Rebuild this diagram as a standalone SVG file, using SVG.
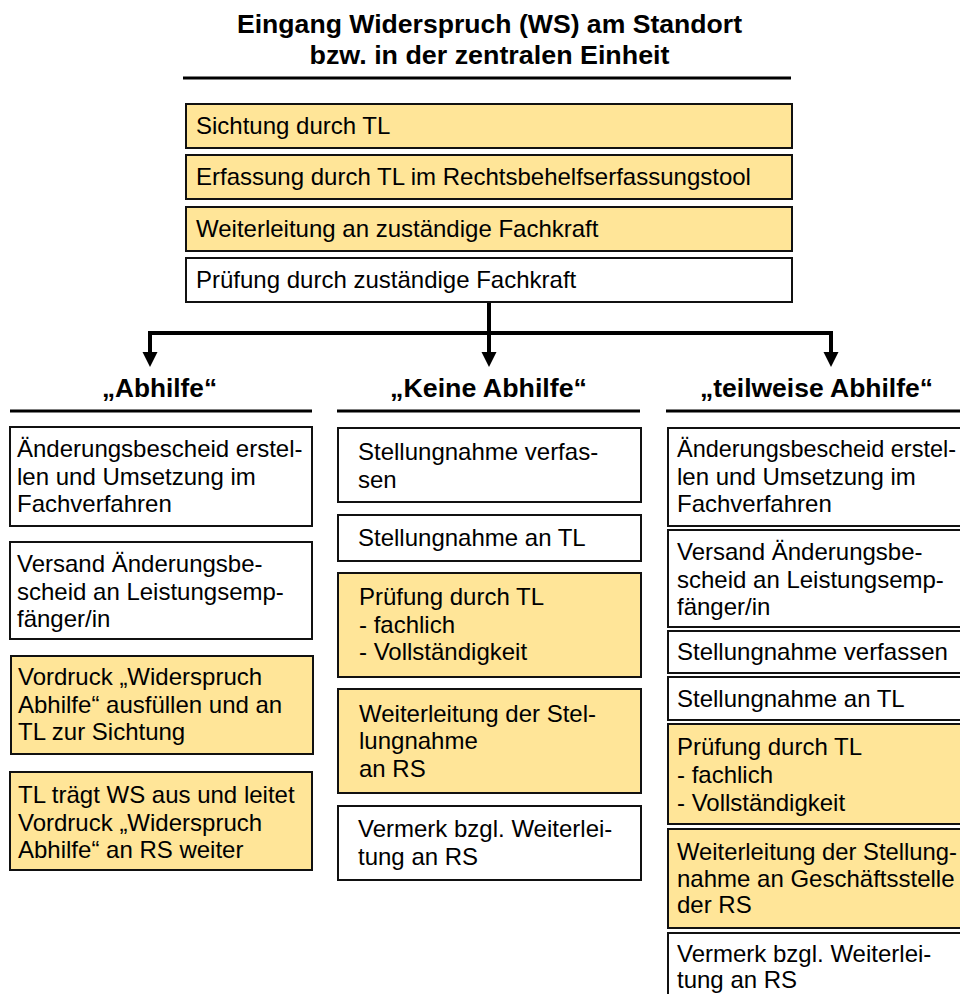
<svg xmlns="http://www.w3.org/2000/svg" width="960" height="994" viewBox="0 0 960 994">
<style>
  text { font-family: "Liberation Sans", Arial, sans-serif; fill: #000; }
  .t { font-size: 24px; }
  .h { font-size: 25px; font-weight: bold; text-anchor: middle; }
  .y { fill: #FFE598; stroke: #111; stroke-width: 2; }
  .w { fill: #FFFFFF; stroke: #111; stroke-width: 2; }
  .rule { stroke: #000; stroke-width: 3; fill: none; }
  .conn { stroke: #000; stroke-width: 4; fill: none; }
</style>
<defs>
  <polygon id="head" points="-7.5,0 7.5,0 0,15" fill="#000"/>
</defs>
<rect width="960" height="994" fill="#fff"/>

<g id="title">
  <text class="h" x="489.5" y="33" textLength="505" lengthAdjust="spacingAndGlyphs">Eingang Widerspruch (WS) am Standort</text>
  <text class="h" x="489.5" y="64" textLength="360" lengthAdjust="spacingAndGlyphs">bzw. in der zentralen Einheit</text>
  <line class="rule" x1="183" y1="78" x2="791" y2="78"/>
</g>

<g id="top1"><rect class="y" x="186" y="104" width="606" height="44"/><text class="t" x="196" y="134">Sichtung durch TL</text></g>
<g id="top2"><rect class="y" x="186" y="155" width="606" height="44"/><text class="t" x="196" y="185">Erfassung durch TL im Rechtsbehelfserfassungstool</text></g>
<g id="top3"><rect class="y" x="186" y="207" width="606" height="44"/><text class="t" x="196" y="237">Weiterleitung an zuständige Fachkraft</text></g>
<g id="top4"><rect class="w" x="186" y="258" width="606" height="44"/><text class="t" x="196" y="288">Prüfung durch zuständige Fachkraft</text></g>

<g id="connectors">
  <polyline class="conn" points="489,303 489,333"/>
  <polyline class="conn" points="150,352 150,333 831,333 831,352"/>
  <line class="conn" x1="489" y1="333" x2="489" y2="352"/>
  <use href="#head" x="150" y="352"/>
  <use href="#head" x="489" y="352"/>
  <use href="#head" x="831" y="352"/>
</g>

<g id="head-abhilfe">
  <text class="h" x="159.5" y="397" textLength="115" lengthAdjust="spacingAndGlyphs">„Abhilfe“</text>
  <line class="rule" x1="10" y1="411" x2="312" y2="411"/>
</g>
<g id="head-keine">
  <text class="h" x="488.5" y="397" textLength="197" lengthAdjust="spacingAndGlyphs">„Keine Abhilfe“</text>
  <line class="rule" x1="337" y1="411" x2="640" y2="411"/>
</g>
<g id="head-teilweise">
  <text class="h" x="816.5" y="397" textLength="233" lengthAdjust="spacingAndGlyphs">„teilweise Abhilfe“</text>
  <line class="rule" x1="666" y1="411" x2="960" y2="411"/>
</g>

<g id="a1"><rect class="w" x="10" y="427" width="302" height="99"/>
  <text class="t" x="17" y="457">Änderungsbescheid erstel-</text>
  <text class="t" x="17" y="485">len und Umsetzung im</text>
  <text class="t" x="17" y="512">Fachverfahren</text></g>
<g id="a2"><rect class="w" x="10" y="542" width="302" height="97"/>
  <text class="t" x="17" y="572">Versand Änderungsbe-</text>
  <text class="t" x="17" y="600">scheid an Leistungsemp-</text>
  <text class="t" x="17" y="627">fänger/in</text></g>
<g id="a3"><rect class="y" x="11" y="656" width="302" height="98"/>
  <text class="t" x="18" y="685">Vordruck „Widerspruch</text>
  <text class="t" x="18" y="713">Abhilfe“ ausfüllen und an</text>
  <text class="t" x="18" y="740">TL zur Sichtung</text></g>
<g id="a4"><rect class="y" x="10" y="772" width="302" height="98"/>
  <text class="t" x="18" y="803">TL trägt WS aus und leitet</text>
  <text class="t" x="18" y="831">Vordruck „Widerspruch</text>
  <text class="t" x="18" y="858">Abhilfe“ an RS weiter</text></g>

<g id="b1"><rect class="w" x="338" y="428" width="303" height="74"/>
  <text class="t" x="358" y="460">Stellungnahme verfas-</text>
  <text class="t" x="358" y="488">sen</text></g>
<g id="b2"><rect class="w" x="338" y="515" width="303" height="46"/>
  <text class="t" x="358" y="546">Stellungnahme an TL</text></g>
<g id="b3"><rect class="y" x="338" y="573" width="303" height="104"/>
  <text class="t" x="359" y="605">Prüfung durch TL</text>
  <text class="t" x="359" y="633">- fachlich</text>
  <text class="t" x="359" y="660">- Vollständigkeit</text></g>
<g id="b4"><rect class="y" x="338" y="689" width="303" height="104"/>
  <text class="t" x="359" y="722">Weiterleitung der Stel-</text>
  <text class="t" x="359" y="749">lungnahme</text>
  <text class="t" x="359" y="777">an RS</text></g>
<g id="b5"><rect class="w" x="338" y="806" width="303" height="74"/>
  <text class="t" x="358" y="837">Vermerk bzgl. Weiterlei-</text>
  <text class="t" x="358" y="865">tung an RS</text></g>

<g id="c1"><rect class="w" x="668" y="428" width="300" height="98"/>
  <text class="t" x="677" y="457" textLength="279" lengthAdjust="spacingAndGlyphs">Änderungsbescheid erstel-</text>
  <text class="t" x="677" y="485">len und Umsetzung im</text>
  <text class="t" x="677" y="512">Fachverfahren</text></g>
<g id="c2"><rect class="w" x="668" y="530" width="300" height="97"/>
  <text class="t" x="677" y="560">Versand Änderungsbe-</text>
  <text class="t" x="677" y="588">scheid an Leistungsemp-</text>
  <text class="t" x="677" y="615">fänger/in</text></g>
<g id="c3"><rect class="w" x="668" y="631" width="300" height="42"/>
  <text class="t" x="677" y="660">Stellungnahme verfassen</text></g>
<g id="c4"><rect class="w" x="668" y="677" width="300" height="43"/>
  <text class="t" x="677" y="707">Stellungnahme an TL</text></g>
<g id="c5"><rect class="y" x="668" y="724" width="300" height="100"/>
  <text class="t" x="677" y="755">Prüfung durch TL</text>
  <text class="t" x="677" y="783">- fachlich</text>
  <text class="t" x="677" y="811">- Vollständigkeit</text></g>
<g id="c6"><rect class="y" x="668" y="829" width="300" height="99"/>
  <text class="t" x="677" y="860" textLength="280" lengthAdjust="spacingAndGlyphs">Weiterleitung der Stellung-</text>
  <text class="t" x="677" y="887">nahme an Geschäftsstelle</text>
  <text class="t" x="677" y="913">der RS</text></g>
<g id="c7"><rect class="w" x="668" y="933" width="300" height="70"/>
  <text class="t" x="677" y="962">Vermerk bzgl. Weiterlei-</text>
  <text class="t" x="677" y="988">tung an RS</text></g>
</svg>
